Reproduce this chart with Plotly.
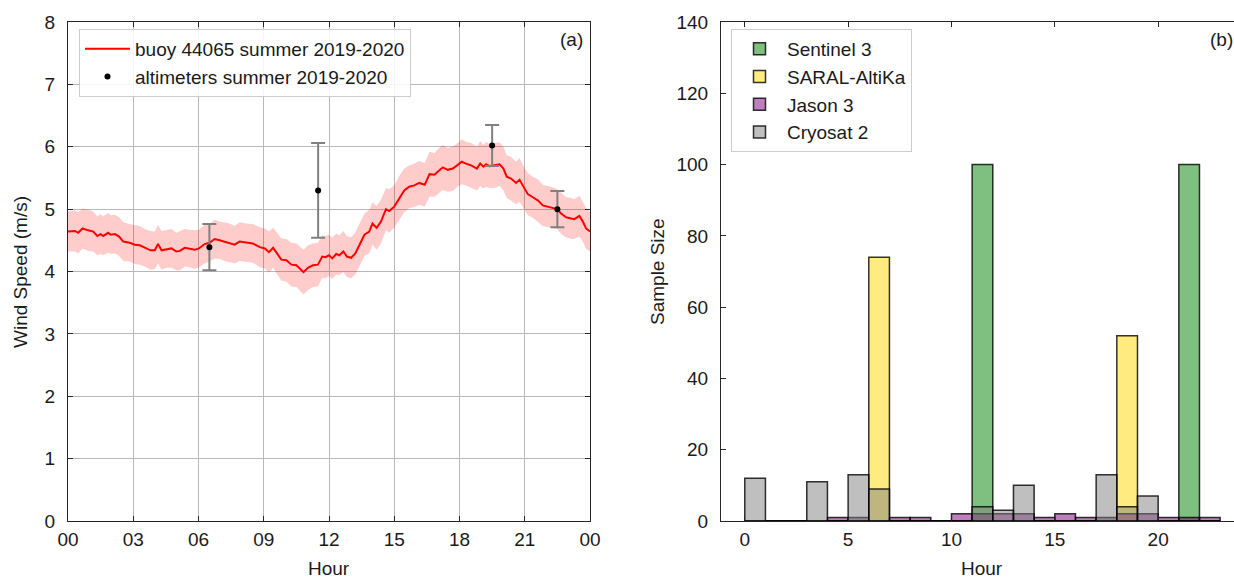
import plotly.graph_objects as go

# ---------------- Panel (a) data: buoy diurnal wind speed ----------------
buoy_hour = [0.0, 0.32, 0.47, 0.67, 0.93, 1.16, 1.35, 1.5, 1.62, 1.85, 1.96, 2.16, 2.35, 2.54, 2.84,
             3.07, 3.30, 3.53, 3.79, 3.99, 4.14, 4.30, 4.53, 4.76, 4.98, 5.14, 5.37, 5.6, 5.83, 6.02,
             6.28, 6.51, 6.74, 6.97, 7.2, 7.43, 7.66, 7.89,
             8.2, 8.5, 8.82, 9.05, 9.24, 9.43, 9.61, 9.81, 10.04, 10.27, 10.5, 10.68, 10.83, 11.03,
             11.26, 11.49, 11.69, 11.84, 12.0, 12.15, 12.33, 12.48, 12.66, 12.82, 13.02, 13.21, 13.4,
             13.63, 13.85, 14.0, 14.19, 14.39, 14.62, 14.77, 15.0, 15.23, 15.46, 15.69, 15.92,
             16.15, 16.4, 16.62, 16.85, 17.0, 17.23, 17.46, 17.69, 17.92, 18.1, 18.3, 18.54, 18.8,
             18.95, 19.1, 19.22, 19.38, 19.6, 19.84, 20.02, 20.17, 20.37, 20.6, 20.76, 20.94, 21.14,
             21.37, 21.6, 21.83, 22.06, 22.29, 22.49, 22.67, 22.9, 23.13, 23.28, 23.51, 23.67, 23.82, 24.0]
buoy_speed = [4.64, 4.65, 4.62, 4.69, 4.66, 4.64, 4.57, 4.60, 4.57, 4.62, 4.59, 4.60, 4.56, 4.48, 4.46,
              4.43, 4.42, 4.38, 4.34, 4.34, 4.44, 4.34, 4.36, 4.37, 4.32, 4.33, 4.38, 4.37, 4.35, 4.37,
              4.44, 4.46, 4.52, 4.50, 4.48, 4.46, 4.43, 4.48,
              4.46, 4.45, 4.39, 4.37, 4.31, 4.38, 4.29, 4.19, 4.18, 4.11, 4.10, 4.04, 3.99, 4.06,
              4.10, 4.11, 4.24, 4.23, 4.26, 4.21, 4.28, 4.26, 4.32, 4.24, 4.22, 4.29, 4.42,
              4.59, 4.64, 4.77, 4.70, 4.80, 5.00, 4.97, 5.04, 5.18, 5.30, 5.36, 5.38,
              5.42, 5.39, 5.56, 5.55, 5.60, 5.67, 5.63, 5.65, 5.71, 5.76, 5.73, 5.70, 5.65,
              5.73, 5.68, 5.72, 5.69, 5.70, 5.72, 5.65, 5.52, 5.49, 5.42, 5.47, 5.35, 5.24,
              5.19, 5.14, 5.06, 5.04, 5.02, 5.00, 4.93, 4.87, 4.85, 4.84, 4.89, 4.80, 4.69, 4.64]
buoy_std = [0.32, 0.33, 0.33, 0.32, 0.33, 0.32, 0.31, 0.32, 0.31, 0.32, 0.31, 0.31, 0.31, 0.31, 0.30,
            0.31, 0.31, 0.30, 0.31, 0.30, 0.31, 0.31, 0.30, 0.31, 0.30, 0.31, 0.30, 0.30, 0.31, 0.30,
            0.31, 0.30, 0.31, 0.30, 0.31, 0.31, 0.30, 0.31,
            0.31, 0.31, 0.32, 0.32, 0.33, 0.32, 0.33, 0.34, 0.34, 0.35, 0.35, 0.36, 0.36, 0.36,
            0.35, 0.35, 0.34, 0.34, 0.33, 0.33, 0.33, 0.32, 0.33, 0.33, 0.33, 0.34, 0.34,
            0.34, 0.35, 0.34, 0.35, 0.35, 0.34, 0.35, 0.34, 0.35, 0.35, 0.34, 0.35,
            0.35, 0.35, 0.36, 0.35, 0.36, 0.36, 0.35, 0.36, 0.35, 0.36, 0.35, 0.36, 0.35,
            0.36, 0.35, 0.36, 0.35, 0.36, 0.35, 0.35, 0.34, 0.35, 0.34, 0.35, 0.34, 0.34,
            0.33, 0.34, 0.33, 0.33, 0.33, 0.32, 0.33, 0.32, 0.33, 0.32, 0.33, 0.32, 0.33, 0.32, 0.32]

# altimeter means with error bars
alt_hour = [6.5, 11.5, 19.5, 22.5]
alt_speed = [4.39, 5.30, 6.02, 5.00]
alt_err = [0.37, 0.76, 0.33, 0.29]

hour_ticks = [0, 3, 6, 9, 12, 15, 18, 21, 24]
hour_labels = ["00", "03", "06", "09", "12", "15", "18", "21", "00"]

# ---------------- Panel (b) data: sample size per hour bin ----------------
bin_hour = list(range(23))  # bins [h, h+1)
sentinel3 = [0, 0, 0, 0, 0, 0, 0, 0, 0, 0, 0, 100, 0, 0, 0, 0, 0, 0, 0, 0, 0, 100, 0]
saral = [0, 0, 0, 0, 0, 0, 74, 0, 0, 0, 0, 0, 0, 0, 0, 0, 0, 0, 52, 0, 0, 0, 0]
jason3 = [0, 0, 0, 0, 1, 1, 0, 1, 1, 0, 2, 2, 2, 2, 1, 2, 1, 1, 2, 2, 1, 1, 1]
cryosat2 = [12, 0, 0, 11, 0, 13, 9, 0, 0, 0, 0, 4, 3, 10, 0, 0, 0, 13, 4, 7, 0, 0, 0]

series_b = [
    ("Sentinel 3", sentinel3, "rgba(0,128,0,0.5)"),
    ("SARAL-AltiKa", saral, "rgba(255,215,0,0.5)"),
    ("Jason 3", jason3, "rgba(128,0,128,0.5)"),
    ("Cryosat 2", cryosat2, "rgba(128,128,128,0.5)"),
]

FONT = "Liberation Sans, Arial, sans-serif"
FS = 19
W, H = 1234, 581

fig = go.Figure()

# band
upper = [m + s for m, s in zip(buoy_speed, buoy_std)]
lower = [m - s for m, s in zip(buoy_speed, buoy_std)]
fig.add_trace(go.Scatter(x=buoy_hour, y=upper, mode="lines", line=dict(width=0),
                         showlegend=False, hoverinfo="skip", xaxis="x", yaxis="y"))
fig.add_trace(go.Scatter(x=buoy_hour, y=lower, mode="lines", line=dict(width=0),
                         fill="tonexty", fillcolor="rgba(255,0,0,0.2)",
                         showlegend=False, hoverinfo="skip", xaxis="x", yaxis="y"))
fig.add_trace(go.Scatter(x=buoy_hour, y=buoy_speed, mode="lines",
                         line=dict(color="red", width=2),
                         name="buoy 44065 summer 2019-2020", legend="legend", legendrank=1,
                         xaxis="x", yaxis="y"))
fig.add_trace(go.Scatter(x=alt_hour, y=alt_speed, mode="markers",
                         marker=dict(color="black", size=6),
                         error_y=dict(type="data", array=alt_err, color="gray",
                                      thickness=2, width=7),
                         name="altimeters summer 2019-2020", legend="legend", legendrank=2,
                         xaxis="x", yaxis="y"))

for i, (name, vals, col) in enumerate(series_b):
    fig.add_trace(go.Bar(x=[h + 0.5 for h in bin_hour], y=vals, width=1,
                         marker=dict(color=col, line=dict(color="rgba(0,0,0,0.8)", width=1.5)),
                         name=name, legend="legend2", legendrank=10 + i,
                         xaxis="x2", yaxis="y2"))

axis_common = dict(showline=True, linecolor="#262626", linewidth=1, ticks="inside",
                   ticklen=5, tickcolor="#262626", zeroline=False, automargin=False,
                   tickfont=dict(family=FONT, size=FS, color="#1a1a1a"))

y_dom = [1 - 521 / H, 1 - 22 / H]

legend_common = dict(yanchor="top", xanchor="left", bgcolor="rgba(255,255,255,0.85)",
                     bordercolor="#cccccc", borderwidth=1, traceorder="normal",
                     itemwidth=45, font=dict(family=FONT, size=FS, color="#1a1a1a"))

def label(text, x, y, angle=0):
    return dict(text=text, x=x / W, y=1 - y / H, xref="paper", yref="paper",
                xanchor="center", yanchor="middle", textangle=angle, showarrow=False,
                borderpad=0, font=dict(family=FONT, size=FS, color="#1a1a1a"))

fig.update_layout(
    width=W, height=H, autosize=False,
    margin=dict(l=0, r=0, t=0, b=0, pad=0, autoexpand=False),
    paper_bgcolor="white", plot_bgcolor="white",
    font=dict(family=FONT, size=FS, color="#1a1a1a"),
    barmode="overlay",
    xaxis=dict(domain=[68 / W, 590 / W], range=[0, 24], tickvals=hour_ticks,
               ticktext=hour_labels, showgrid=True, gridcolor="#b8b8b8", gridwidth=1,
               mirror="ticks", ticklabelstandoff=1, **axis_common),
    yaxis=dict(domain=y_dom, range=[0, 8], dtick=1, showgrid=True, gridcolor="#b8b8b8",
               gridwidth=1, mirror="ticks", ticklabelstandoff=8, **axis_common),
    xaxis2=dict(domain=[721 / W, 1.0], range=[-1.15, 23.67], tickvals=[0, 5, 10, 15, 20],
                showgrid=False, mirror="ticks", anchor="y2", ticklabelstandoff=1,
                **axis_common),
    yaxis2=dict(domain=y_dom, range=[0, 140], dtick=20, showgrid=False, mirror=False,
                anchor="x2", ticklabelstandoff=8, **axis_common),
    legend=dict(x=79 / W, y=1 - 29 / H, **legend_common),
    legend2=dict(x=731 / W, y=1 - 29 / H, **legend_common),
    annotations=[
        label("Wind Speed (m/s)", 20, 272, -90),
        label("Sample Size", 657, 272, -90),
        label("Hour", 329, 568),
        label("Hour", 982, 568),
        label("(a)", 571, 40),
        label("(b)", 1221, 40),
    ],
)

fig.write_html("out.html", post_script="document.body.style.margin='0';")
